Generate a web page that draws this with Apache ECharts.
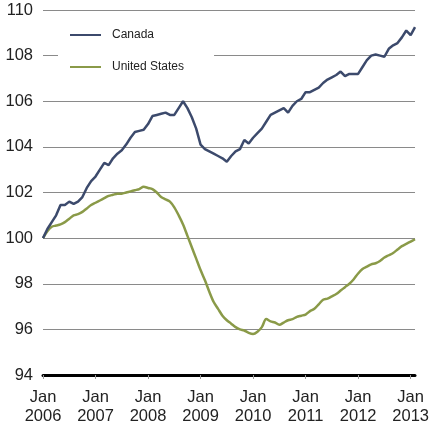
<!DOCTYPE html>
<html>
<head>
<meta charset="utf-8">
<script src="https://cdn.jsdelivr.net/npm/echarts@6/dist/echarts.min.js"></script>
<style>html,body{margin:0;padding:0;background:#fff;}#c{width:432px;height:428px;}</style>
</head>
<body>
<div id="c"></div>
<script>
// Monthly, Jan 2006 .. Feb 2013
const startYear = 2006;
const monthCount = 86;
const yTicks = [94, 96, 98, 100, 102, 104, 106, 108, 110];

const canada = [
  100.0, 100.4, 100.7, 101.0, 101.45, 101.45, 101.6, 101.5, 101.6, 101.8, 102.2, 102.5,
  102.7, 103.0, 103.3, 103.2, 103.5, 103.7, 103.85, 104.1, 104.4, 104.65, 104.7, 104.75,
  105.0, 105.35, 105.4, 105.45, 105.5, 105.4, 105.4, 105.7, 106.0, 105.7, 105.3, 104.8,
  104.1, 103.9, 103.8, 103.7, 103.6, 103.5, 103.35, 103.6, 103.8, 103.9, 104.3, 104.15,
  104.4, 104.6, 104.8, 105.1, 105.4, 105.5, 105.6, 105.7, 105.5, 105.8, 106.0, 106.1,
  106.4, 106.4, 106.5, 106.6, 106.8, 106.95, 107.05, 107.15, 107.3, 107.1, 107.2, 107.2,
  107.2, 107.5, 107.8, 108.0, 108.05, 108.0, 107.95, 108.3, 108.45, 108.55, 108.8, 109.1,
  108.9, 109.25
];
const unitedStates = [
  100.0, 100.3, 100.5, 100.55, 100.6, 100.7, 100.85, 101.0, 101.05, 101.15, 101.3, 101.45,
  101.55, 101.65, 101.75, 101.85, 101.9, 101.95, 101.95, 102.0, 102.05, 102.1, 102.15, 102.25,
  102.2, 102.15, 102.0, 101.8, 101.7, 101.6, 101.35, 101.0, 100.6, 100.1, 99.6, 99.1,
  98.6, 98.15, 97.65, 97.2, 96.9, 96.6, 96.4, 96.25, 96.1, 96.0, 95.95, 95.85,
  95.8, 95.9, 96.1, 96.45, 96.35, 96.3, 96.2, 96.3, 96.4, 96.45, 96.55, 96.6,
  96.65, 96.8, 96.9, 97.1, 97.3, 97.35, 97.45, 97.55, 97.7, 97.85, 98.0, 98.2,
  98.45, 98.65, 98.75, 98.85, 98.9, 99.0, 99.15, 99.25, 99.35, 99.5, 99.65, 99.75,
  99.85, 99.95
];

const monthNames = ['Jan','Feb','Mar','Apr','May','Jun','Jul','Aug','Sep','Oct','Nov','Dec'];
const categories = [];
for (let i = 0; i < monthCount; i++) {
  categories.push(monthNames[i % 12] + '\n' + (startYear + Math.floor(i / 12)));
}

const FONT = '"Liberation Sans", Arial, Helvetica, sans-serif';
const chart = echarts.init(document.getElementById('c'), null, {renderer: 'canvas'});
chart.setOption({
  animation: false,
  backgroundColor: '#ffffff',
  grid: {left: 43, right: 14, top: 10, bottom: 53, containLabel: false},
  legend: {
    orient: 'vertical',
    left: 58,
    top: 21,
    padding: [8, 30, 8, 12],
    backgroundColor: '#ffffff',
    itemWidth: 31,
    itemHeight: 2,
    itemGap: 20,
    icon: 'rect',
    textStyle: {fontFamily: FONT, fontSize: 12, color: '#222', padding: [0, 0, 0, 6]},
    data: ['Canada', 'United States']
  },
  xAxis: {
    type: 'category',
    data: categories,
    boundaryGap: false,
    axisLine: {show: true, lineStyle: {color: '#000', width: 3}},
    axisTick: {show: true, interval: 11, length: 4, lineStyle: {color: '#999', width: 1}},
    axisLabel: {interval: 11, fontFamily: FONT, fontSize: 16.5, color: '#222', lineHeight: 19, margin: 13},
    splitLine: {show: false}
  },
  yAxis: {
    type: 'value',
    min: yTicks[0],
    max: yTicks[yTicks.length - 1],
    interval: 2,
    axisLine: {show: false},
    axisTick: {show: false},
    axisLabel: {fontFamily: FONT, fontSize: 16.5, color: '#222', margin: 10},
    splitLine: {show: true, lineStyle: {color: '#8a8a8a', width: 1}}
  },
  series: [
    {
      name: 'Canada', type: 'line', data: canada, symbol: 'none', smooth: false,
      lineStyle: {color: '#3c4a6c', width: 2.5}, itemStyle: {color: '#3c4a6c'}, z: 3
    },
    {
      name: 'United States', type: 'line', data: unitedStates, symbol: 'none', smooth: 0.3,
      lineStyle: {color: '#8a9a48', width: 2.5}, itemStyle: {color: '#8a9a48'}, z: 2
    }
  ]
});
</script>
</body>
</html>
